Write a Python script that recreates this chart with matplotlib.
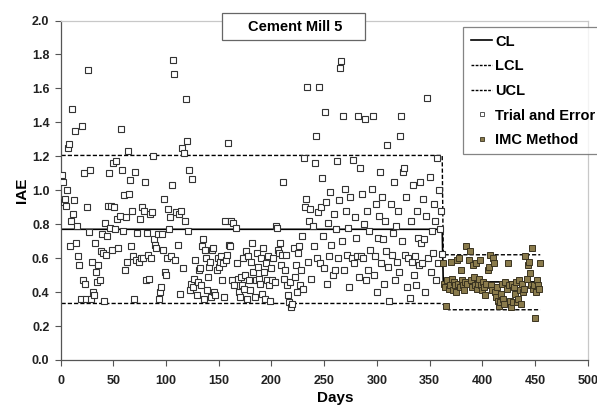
import numpy as np
import matplotlib
matplotlib.use("Agg")
import matplotlib.pyplot as plt
from matplotlib.lines import Line2D
from matplotlib.patches import Rectangle

# ---------------- data ----------------
trial_days = list(range(1, 363))
trial_iae = [
    1.09, 1.05, 0.93, 0.95, 0.91, 1.00, 1.25, 1.27, 0.67, 0.82,
    1.48, 0.86, 0.94, 1.35, 0.69, 0.79, 0.61, 0.56, 0.36, 1.38,
    0.47, 1.10, 0.45, 0.36, 0.90, 1.71, 0.755, 1.12, 0.36, 0.58,
    0.40, 0.38, 0.69, 0.52, 0.46, 0.56, 0.47, 0.64, 0.74, 0.63,
    0.35, 0.81, 0.62, 0.73, 0.91, 1.10, 0.78, 0.91, 0.65, 1.16,
    0.90, 0.77, 1.17, 0.83, 0.66, 0.85, 1.36, 1.12, 0.76, 0.97,
    0.53, 0.84, 0.58, 1.23, 0.98, 1.06, 0.67, 0.88, 0.61, 0.36,
    1.11, 0.59, 0.75, 0.58, 0.83, 0.60, 0.90, 0.60, 0.88, 1.05,
    0.47, 0.75, 0.62, 0.48, 0.86, 0.60, 0.87, 1.20, 0.71, 0.68,
    0.66, 0.74, 0.36, 0.40, 0.43, 0.74, 0.65, 0.95, 0.52, 0.50,
    0.60, 0.89, 0.77, 0.84, 0.61, 1.03, 1.766, 1.684, 0.59, 0.87,
    0.68, 0.86, 0.39, 0.88, 1.25, 0.54, 1.22, 0.82, 1.54, 1.29,
    0.76, 1.12, 0.41, 0.45, 1.065, 0.43, 0.48, 0.59, 0.38, 0.46,
    0.53, 0.54, 0.44, 0.67, 0.71, 0.36, 0.65, 0.60, 0.41, 0.49,
    0.55, 0.58, 0.37, 0.65, 0.66, 0.40, 0.38, 0.53, 0.60, 0.55,
    0.58, 0.61, 0.47, 0.57, 0.37, 0.82, 0.59, 0.62, 1.28, 0.68,
    0.67, 0.82, 0.47, 0.81, 0.44, 0.78, 0.57, 0.48, 0.40, 0.37,
    0.49, 0.44, 0.60, 0.42, 0.50, 0.64, 0.36, 0.61, 0.47, 0.41,
    0.58, 0.69, 0.52, 0.37, 0.47, 0.63, 0.55, 0.48, 0.45, 0.60,
    0.39, 0.66, 0.52, 0.36, 0.57, 0.47, 0.61, 0.44, 0.35, 0.54,
    0.47, 0.60, 0.46, 0.79, 0.775, 0.65, 0.63, 0.69, 0.56, 0.62,
    1.046, 0.48, 0.53, 0.62, 0.44, 0.38, 0.34, 0.46, 0.31, 0.33,
    0.66, 0.49, 0.56, 0.40, 0.63, 0.67, 0.44, 0.53, 0.73, 0.42,
    1.19, 0.90, 0.95, 1.607, 0.58, 0.82, 0.89, 0.48, 0.79, 0.67,
    1.16, 1.317, 0.60, 0.87, 1.61, 0.57, 0.90, 1.075, 0.73, 0.54,
    1.46, 0.93, 0.45, 0.81, 0.61, 0.99, 0.68, 0.50, 0.86, 0.53,
    0.77, 1.17, 0.60, 0.94, 1.72, 1.76, 0.70, 1.44, 0.53, 1.01,
    0.88, 0.62, 0.78, 0.43, 0.96, 0.60, 1.18, 0.57, 0.84, 0.72,
    0.61, 1.44, 0.49, 1.13, 0.61, 0.98, 0.60, 0.80, 1.42, 0.47,
    0.88, 0.53, 0.76, 0.65, 1.01, 1.44, 0.50, 0.61, 0.92, 0.40,
    0.72, 0.85, 1.11, 0.57, 0.96, 0.71, 0.45, 0.82, 0.64, 1.265,
    0.55, 0.35, 0.92, 0.62, 0.75, 1.05, 0.47, 0.79, 0.58, 0.88,
    0.52, 1.32, 1.44, 0.70, 1.11, 1.13, 0.62, 0.96, 0.43, 0.60,
    0.365, 0.82, 0.58, 1.03, 0.50, 0.61, 0.44, 0.88, 0.72, 0.56,
    1.05, 0.69, 0.57, 0.95, 0.71, 0.40, 0.85, 1.545, 0.60, 1.08,
    0.52, 0.76, 0.63, 0.92, 0.82, 0.47, 1.19, 0.57, 1.00, 0.77,
    0.88, 0.625,
]

imc_days = list(range(363, 456))
imc_iae = [
    0.57, 0.45, 0.43, 0.32, 0.47, 0.42, 0.44, 0.58, 0.48, 0.41,
    0.46, 0.44, 0.40, 0.59, 0.45, 0.60, 0.43, 0.53, 0.47, 0.44,
    0.41, 0.46, 0.67, 0.45, 0.59, 0.64, 0.47, 0.43, 0.56, 0.49,
    0.44, 0.57, 0.42, 0.45, 0.48, 0.59, 0.44, 0.41, 0.46, 0.43,
    0.38, 0.45, 0.53, 0.55, 0.62, 0.44, 0.41, 0.60, 0.57, 0.40,
    0.37, 0.43, 0.35, 0.32, 0.34, 0.39, 0.45, 0.36, 0.33, 0.46,
    0.42, 0.57, 0.44, 0.35, 0.31, 0.45, 0.34, 0.43, 0.39, 0.46,
    0.34, 0.36, 0.47, 0.41, 0.33, 0.45, 0.40, 0.42, 0.61, 0.48,
    0.56, 0.58, 0.51, 0.44, 0.66, 0.42, 0.44, 0.25, 0.40, 0.47,
    0.44, 0.42, 0.57,
]

cl_days = [1, 362, 363, 452]
cl_vals = [0.77, 0.77, 0.46, 0.46]
ucl_days = [1, 362, 363, 455]
ucl_vals = [1.205, 1.205, 0.62, 0.62]
lcl_days = [1, 362, 368, 455]
lcl_vals = [0.333, 0.333, 0.296, 0.296]

title_text = "Cement Mill 5"
x_label = "Days"
y_label = "IAE"
x_ticks = [0, 50, 100, 150, 200, 250, 300, 350, 400, 450, 500]
y_ticks = [0.0, 0.2, 0.4, 0.6, 0.8, 1.0, 1.2, 1.4, 1.6, 1.8, 2.0]

# ---------------- plot ----------------
plt.rcParams['font.family'] = ['Liberation Sans', 'DejaVu Sans']

W, H = 597, 407
fig = plt.figure(figsize=(W / 100, H / 100), dpi=100)
ax = fig.add_axes([60.5 / W, (H - 360) / H, 527.2 / W, 339.5 / H])

olive = '#8a7b4c'

ax.plot(cl_days, cl_vals, color='black', lw=1.2, zorder=2)
ax.plot(lcl_days, lcl_vals, color='black', lw=1.0, ls=(0, (3, 1.5)), zorder=2)
ax.plot(ucl_days, ucl_vals, color='black', lw=1.0, ls=(0, (3, 1.5)), zorder=2)
ax.plot(trial_days, trial_iae, ls='none', marker='s', ms=4.4,
        mfc='white', mec='#333333', mew=0.8, zorder=3)
ax.plot(imc_days, imc_iae, ls='none', marker='s', ms=4.6,
        mfc=olive, mec='#3a3320', mew=0.7, zorder=3)

ax.set_xlim(0, 500)
ax.set_ylim(0, 2.0)
ax.set_xticks(x_ticks)
ax.set_yticks(y_ticks)
ax.set_xticklabels([str(t) for t in x_ticks], fontsize=9, fontweight='bold', color='#222222')
ax.set_yticklabels([f"{t:.1f}" for t in y_ticks], fontsize=9, fontweight='bold', color='#222222')
ax.tick_params(axis='both', direction='out', length=4, width=0.8, color='#555555', pad=4)
ax.tick_params(axis='x', pad=7)

for s in ['left', 'bottom']:
    ax.spines[s].set_color('#555555')
    ax.spines[s].set_linewidth(0.9)
for s in ['top', 'right']:
    ax.spines[s].set_color('#c8c8c8')
    ax.spines[s].set_linewidth(0.9)

ax.set_xlabel(x_label, fontsize=11, fontweight='bold')
ax.xaxis.set_label_coords((335 - 60.5) / 527.2, -(391 - 360) / 339.5)
ax.set_ylabel(y_label, fontsize=11, fontweight='bold', labelpad=2)

# title box
fig.add_artist(Rectangle((222 / W, (H - 40) / H), (365 - 222) / W, 27 / H,
                         transform=fig.transFigure, fc='white', ec='#666666',
                         lw=0.9, zorder=5))
fig.text(295 / W, (H - 27) / H, title_text, ha='center', va='center', fontsize=10.5,
         fontweight='bold', zorder=6)

handles = [
    Line2D([], [], color='black', lw=1.2),
    Line2D([], [], color='black', lw=1.0, ls=(0, (2, 1))),
    Line2D([], [], color='black', lw=1.0, ls=(0, (2, 1))),
    Line2D([], [], ls='none', marker='s', ms=3.5, mfc='white', mec='#555555', mew=0.7),
    Line2D([], [], ls='none', marker='s', ms=3.5, mfc=olive, mec='#3a3320', mew=0.6),
]
labels = ["CL", "LCL", "UCL", "Trial and Error", "IMC Method"]
leg = fig.legend(handles, labels, loc='upper left', bbox_to_anchor=(456 / W, (H - 20) / H),
                 frameon=True, fancybox=False, edgecolor='#666666',
                 prop={'weight': 'bold', 'size': 10.5}, handlelength=1.5,
                 handletextpad=0.2, labelspacing=0.73, borderpad=0.5)
leg.get_frame().set_linewidth(0.9)

fig.savefig("out.png", dpi=100)
